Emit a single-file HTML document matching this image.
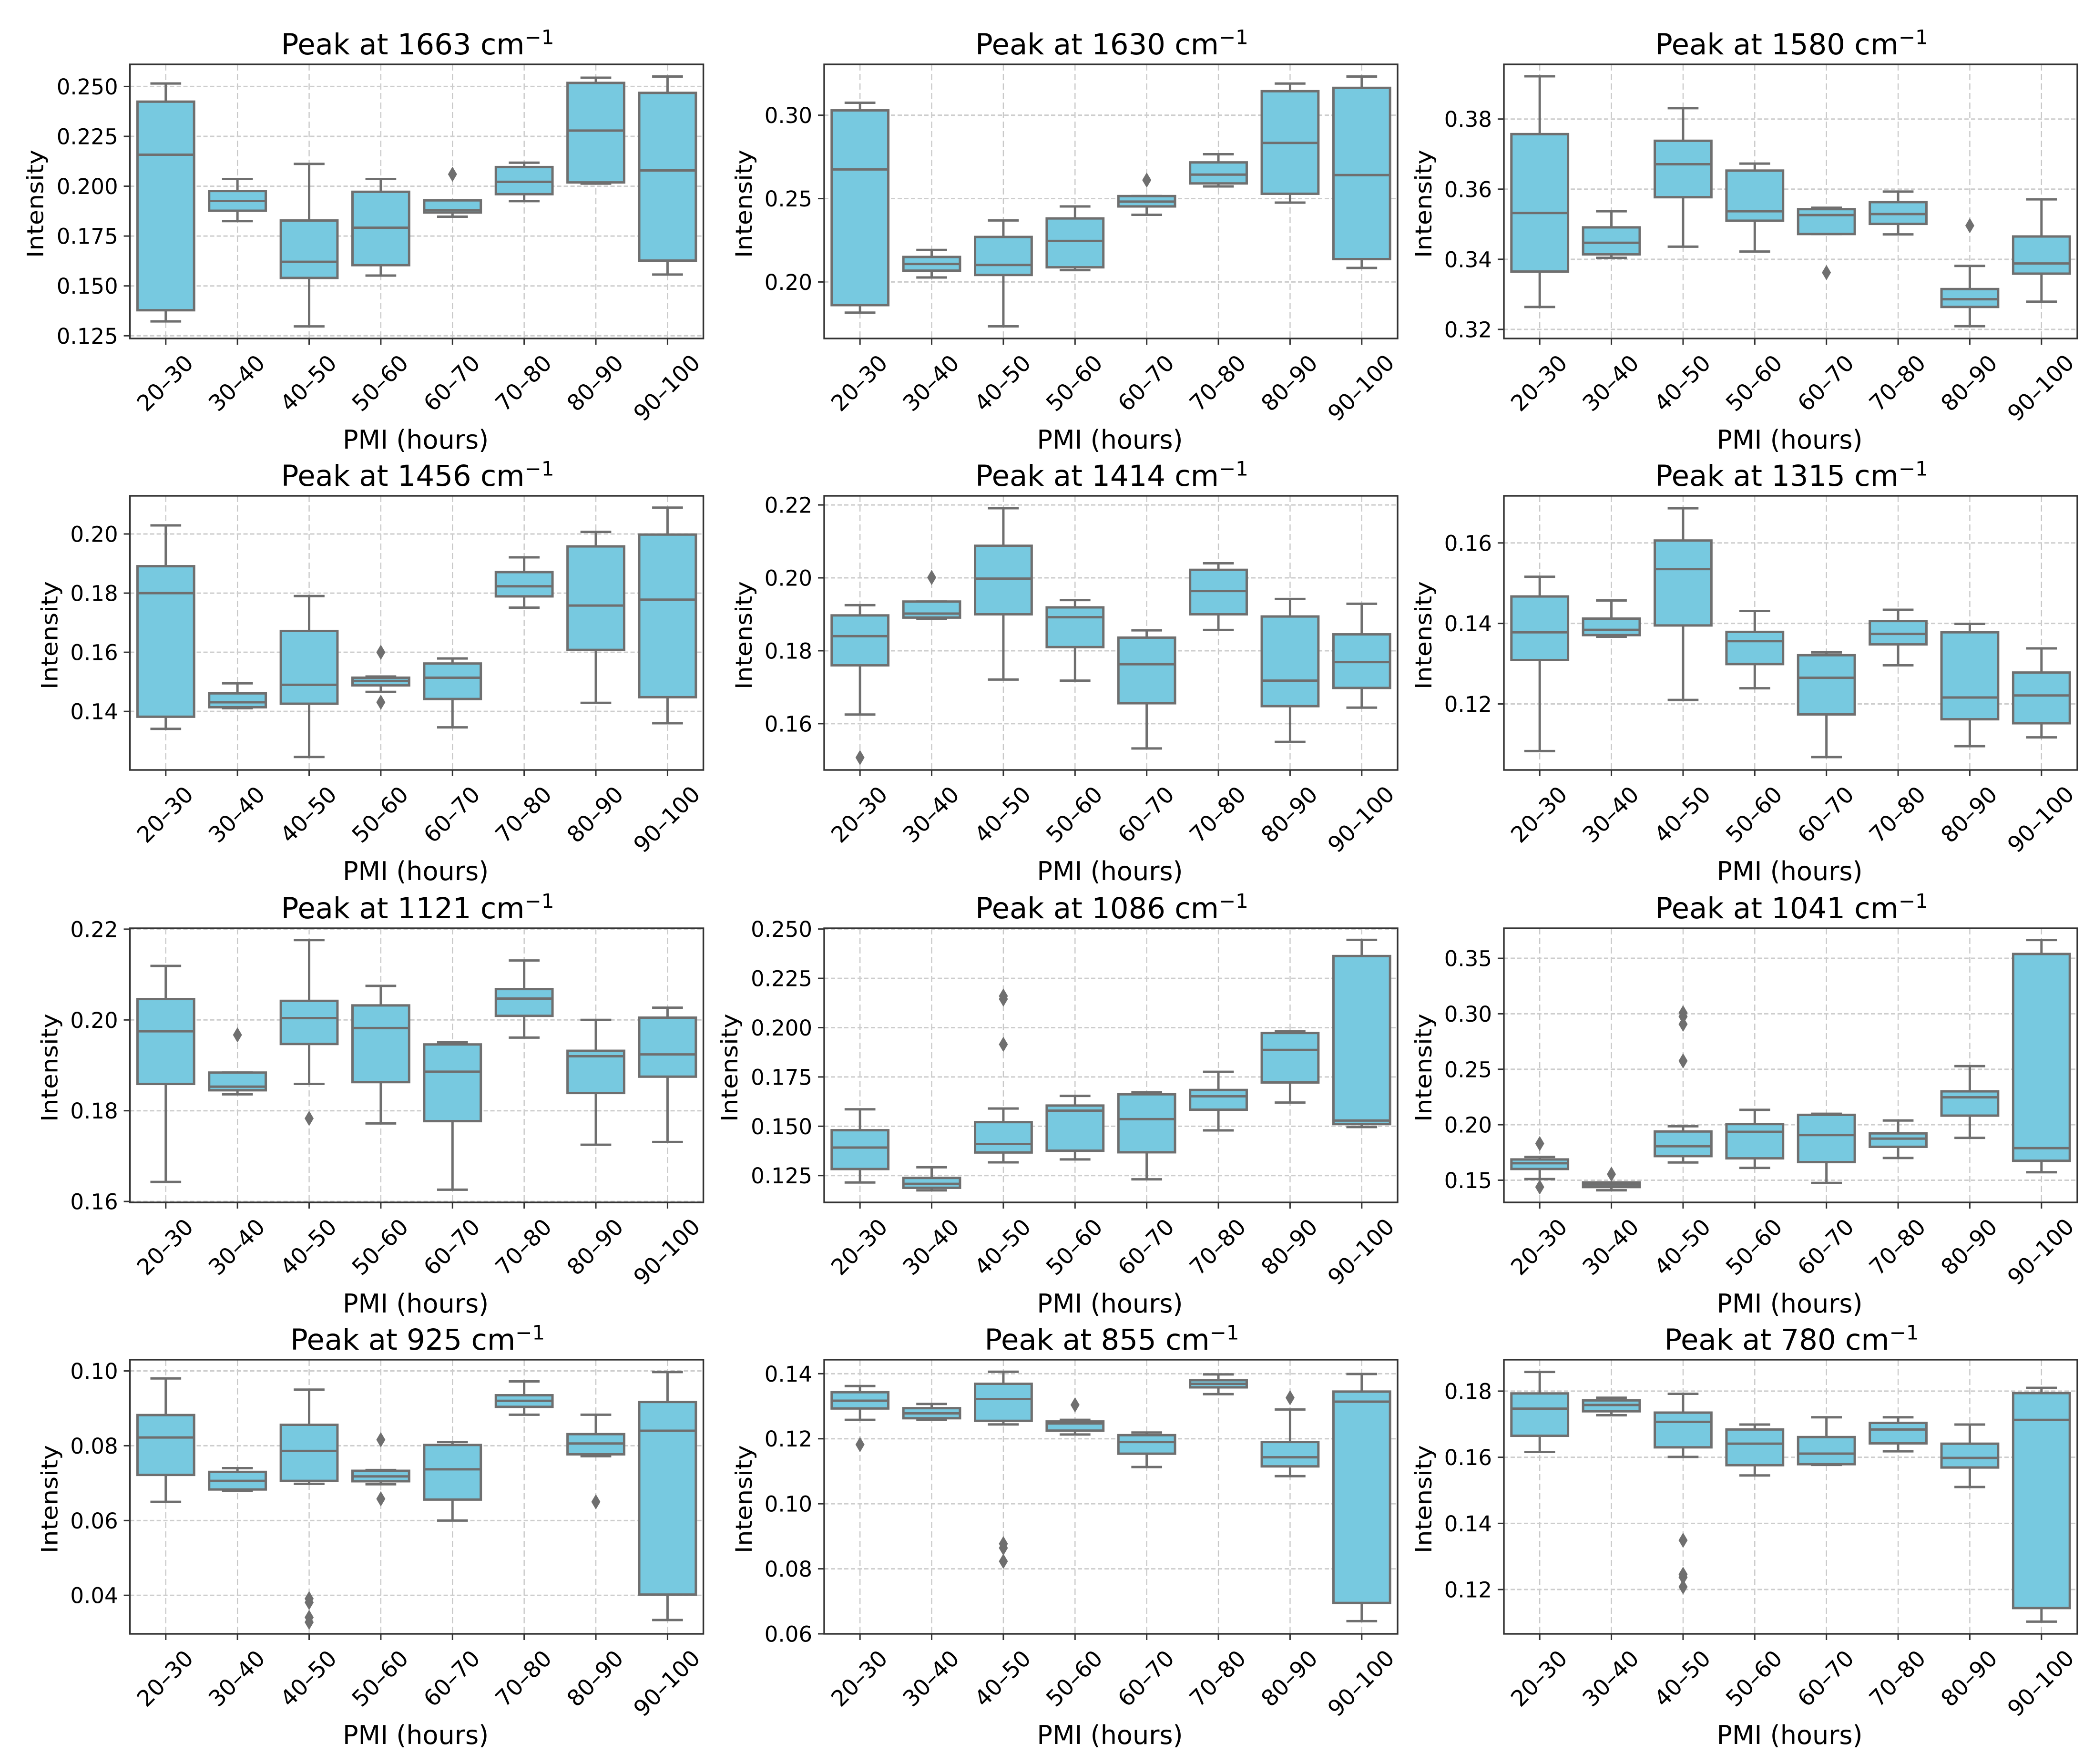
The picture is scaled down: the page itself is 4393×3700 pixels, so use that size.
<!DOCTYPE html>
<html lang="en">
<head>
<meta charset="utf-8">
<title>Raman peak intensity by PMI</title>
<style>
html,body{margin:0;padding:0;background:#fff;}
svg{display:block;}
text{font-family:"DejaVu Sans","Liberation Sans",sans-serif;fill:#000;}
</style>
</head>
<body>
<svg id="figure" xmlns="http://www.w3.org/2000/svg" width="4393" height="3700" viewBox="0 0 4393 3700"></svg>
<script>
const categories = ['20–30','30–40','40–50','50–60','60–70','70–80','80–90','90–100'];

const p1663Ticks = ['0.125','0.150','0.175','0.200','0.225','0.250'];
const p1663Ylim = [0.12363,0.2611];
const p1663Low = [.1322,.1825,.1297,.1552,.1847,.1925,.2013,.1557];
const p1663Q1 = [.1378,.1877,.1540,.1604,.1868,.1960,.2019,.1627];
const p1663Med = [.2158,.1926,.1621,.1792,.1880,.2022,.2279,.2079];
const p1663Q3 = [.2424,.1976,.1828,.1972,.1929,.2096,.2518,.2468];
const p1663High = [.2515,.2036,.2112,.2036,.1929,.2118,.2544,.2550];
const p1663Out = [[],[],[],[],[.2060],[],[],[]];

const p1630Ticks = ['0.20','0.25','0.30'];
const p1630Ylim = [0.1661,0.3305];
const p1630Low = [.1816,.2027,.1734,.2071,.2403,.2573,.2476,.2084];
const p1630Q1 = [.1861,.2068,.2042,.2088,.2453,.2591,.2529,.2137];
const p1630Med = [.2675,.2108,.2102,.2246,.2482,.2644,.2834,.2641];
const p1630Q3 = [.3029,.2150,.2270,.2381,.2515,.2717,.3144,.3164];
const p1630High = [.3075,.2192,.2369,.2453,.2515,.2766,.3190,.3232];
const p1630Out = [[],[],[],[],[.2611],[],[],[]];

const p1580Ticks = ['0.32','0.34','0.36','0.38'];
const p1580Ylim = [0.3174,0.3956];
const p1580Low = [.3264,.3404,.3436,.3422,.3472,.3471,.3209,.3279];
const p1580Q1 = [.3365,.3414,.3577,.3510,.3472,.3501,.3264,.3359];
const p1580Med = [.3532,.3447,.3671,.3537,.3526,.3529,.3286,.3388];
const p1580Q3 = [.3757,.3491,.3738,.3653,.3543,.3563,.3315,.3465];
const p1580High = [.3922,.3537,.3831,.3673,.3547,.3593,.3381,.3571];
const p1580Out = [[],[],[],[],[.3362],[],[.3496],[]];

const p1456Ticks = ['0.14','0.16','0.18','0.20'];
const p1456Ylim = [0.1202,0.2129];
const p1456Low = [.1341,.1411,.1246,.1466,.1346,.1751,.1429,.1360];
const p1456Q1 = [.1382,.1414,.1426,.1488,.1442,.1789,.1608,.1448];
const p1456Med = [.1800,.1431,.1490,.1503,.1514,.1823,.1758,.1778];
const p1456Q3 = [.1891,.1461,.1672,.1514,.1562,.1871,.1958,.1998];
const p1456High = [.2029,.1495,.1790,.1518,.1579,.1921,.2007,.2089];
const p1456Out = [[],[],[],[.1600,.1431],[],[],[],[]];

const p1414Ticks = ['0.16','0.18','0.20','0.22'];
const p1414Ylim = [0.1473,0.2225];
const p1414Low = [.1625,.1888,.1721,.1718,.1532,.1857,.1550,.1644];
const p1414Q1 = [.1760,.1891,.1900,.1810,.1656,.1900,.1648,.1698];
const p1414Med = [.1840,.1902,.1998,.1892,.1763,.1964,.1718,.1769];
const p1414Q3 = [.1897,.1935,.2088,.1919,.1836,.2022,.1894,.1845];
const p1414High = [.1925,.1935,.2191,.1939,.1856,.2040,.1942,.1929];
const p1414Out = [[.1507],[.2001],[],[],[],[],[],[]];

const p1315Ticks = ['0.12','0.14','0.16'];
const p1315Ylim = [0.1036,0.1717];
const p1315Low = [.1083,.1367,.1210,.1239,.1068,.1296,.1095,.1117];
const p1315Q1 = [.1309,.1371,.1395,.1299,.1174,.1348,.1162,.1152];
const p1315Med = [.1378,.1384,.1535,.1356,.1265,.1374,.1216,.1221];
const p1315Q3 = [.1467,.1412,.1606,.1379,.1321,.1406,.1378,.1278];
const p1315High = [.1516,.1457,.1686,.1431,.1328,.1434,.1399,.1338];
const p1315Out = [[],[],[],[],[],[],[],[]];

const p1121Ticks = ['0.16','0.18','0.20','0.22'];
const p1121Ylim = [0.1598,0.2202];
const p1121Low = [.1643,.1836,.1859,.1772,.1626,.1961,.1725,.1731];
const p1121Q1 = [.1859,.1845,.1947,.1863,.1777,.2009,.1839,.1875];
const p1121Med = [.1975,.1853,.2004,.1982,.1886,.2047,.1920,.1924];
const p1121Q3 = [.2046,.1884,.2042,.2032,.1946,.2068,.1932,.2005];
const p1121High = [.2119,.1884,.2176,.2075,.1951,.2131,.2000,.2027];
const p1121Out = [[],[.1967],[.1783],[],[],[],[],[]];

const p1086Ticks = ['0.125','0.150','0.175','0.200','0.225','0.250'];
const p1086Ylim = [0.1114,0.2504];
const p1086Low = [.1215,.1175,.1317,.1332,.1231,.1479,.1620,.1496];
const p1086Q1 = [.1283,.1188,.1367,.1376,.1368,.1584,.1722,.1511];
const p1086Med = [.1392,.1208,.1410,.1579,.1536,.1652,.1887,.1529];
const p1086Q3 = [.1480,.1238,.1521,.1605,.1662,.1684,.1973,.2363];
const p1086High = [.1586,.1292,.1590,.1654,.1672,.1776,.1981,.2445];
const p1086Out = [[],[],[.2160,.2145,.1915],[],[],[],[],[]];

const p1041Ticks = ['0.15','0.20','0.25','0.30','0.35'];
const p1041Ylim = [0.1300,0.3771];
const p1041Low = [.1510,.1409,.1660,.1611,.1475,.1700,.1882,.1572];
const p1041Q1 = [.1601,.1438,.1717,.1697,.1663,.1801,.2082,.1675];
const p1041Med = [.1653,.1461,.1806,.1936,.1907,.1875,.2247,.1789];
const p1041Q3 = [.1687,.1480,.1939,.2006,.2089,.1922,.2301,.3539];
const p1041High = [.1710,.1480,.1986,.2134,.2099,.2038,.2528,.3665];
const p1041Out = [[.1830,.1438],[.1554],[.3009,.2975,.2906,.2575],[],[],[],[],[]];

const p925Ticks = ['0.04','0.06','0.08','0.10'];
const p925Ylim = [0.0297,0.1030];
const p925Low = [.0650,.0679,.0698,.0697,.0600,.0883,.0772,.0334];
const p925Q1 = [.0722,.0683,.0706,.0705,.0656,.0904,.0777,.0402];
const p925Med = [.0822,.0706,.0786,.0718,.0737,.0920,.0806,.0840];
const p925Q3 = [.0882,.0730,.0856,.0733,.0802,.0935,.0831,.0917];
const p925High = [.0980,.0740,.0950,.0735,.0810,.0972,.0883,.0997];
const p925Out = [[],[],[.0391,.0381,.0341,.0328],[.0816,.0658],[],[],[.0650],[]];

const p855Ticks = ['0.06','0.08','0.10','0.12','0.14'];
const p855Ylim = [0.0600,0.1443];
const p855Low = [.1258,.1259,.1244,.1213,.1113,.1337,.1085,.0639];
const p855Q1 = [.1293,.1263,.1255,.1225,.1154,.1358,.1115,.0695];
const p855Med = [.1317,.1278,.1322,.1247,.1190,.1369,.1143,.1314];
const p855Q3 = [.1343,.1294,.1369,.1253,.1211,.1380,.1190,.1345];
const p855High = [.1362,.1307,.1406,.1258,.1219,.1398,.1290,.1399];
const p855Out = [[.1182],[],[.0877,.0864,.0823],[.1304],[],[],[.1326],[]];

const p780Ticks = ['0.12','0.14','0.16','0.18'];
const p780Ylim = [0.1066,0.1895];
const p780Low = [.1616,.1727,.1601,.1545,.1577,.1618,.1510,.1103];
const p780Q1 = [.1665,.1739,.1630,.1576,.1579,.1642,.1569,.1144];
const p780Med = [.1747,.1758,.1707,.1641,.1611,.1684,.1598,.1713];
const p780Q3 = [.1793,.1772,.1735,.1684,.1661,.1704,.1641,.1794];
const p780High = [.1858,.1780,.1792,.1699,.1721,.1721,.1699,.1810];
const p780Out = [[],[],[.1349,.1246,.1237,.1208],[],[],[],[],[]];

const peaks = [
  [1663,p1663Ticks,p1663Ylim,p1663Low,p1663Q1,p1663Med,p1663Q3,p1663High,p1663Out],
  [1630,p1630Ticks,p1630Ylim,p1630Low,p1630Q1,p1630Med,p1630Q3,p1630High,p1630Out],
  [1580,p1580Ticks,p1580Ylim,p1580Low,p1580Q1,p1580Med,p1580Q3,p1580High,p1580Out],
  [1456,p1456Ticks,p1456Ylim,p1456Low,p1456Q1,p1456Med,p1456Q3,p1456High,p1456Out],
  [1414,p1414Ticks,p1414Ylim,p1414Low,p1414Q1,p1414Med,p1414Q3,p1414High,p1414Out],
  [1315,p1315Ticks,p1315Ylim,p1315Low,p1315Q1,p1315Med,p1315Q3,p1315High,p1315Out],
  [1121,p1121Ticks,p1121Ylim,p1121Low,p1121Q1,p1121Med,p1121Q3,p1121High,p1121Out],
  [1086,p1086Ticks,p1086Ylim,p1086Low,p1086Q1,p1086Med,p1086Q3,p1086High,p1086Out],
  [1041,p1041Ticks,p1041Ylim,p1041Low,p1041Q1,p1041Med,p1041Q3,p1041High,p1041Out],
  [925,p925Ticks,p925Ylim,p925Low,p925Q1,p925Med,p925Q3,p925High,p925Out],
  [855,p855Ticks,p855Ylim,p855Low,p855Q1,p855Med,p855Q3,p855High,p855Out],
  [780,p780Ticks,p780Ylim,p780Low,p780Q1,p780Med,p780Q3,p780High,p780Out]
];

const NS = 'http://www.w3.org/2000/svg';
const svg = document.getElementById('figure');
const colLeft = [272.6,1729,3155];
const rowTop = [135,1040,1947,2852];
const plotW = 1203;
const plotH = 575;
const LINE = '#6f6f6f';
const FILL = '#77c9e0';

function add(parent, tag, attrs){
  const el = document.createElementNS(NS, tag);
  for (const k in attrs) el.setAttribute(k, attrs[k]);
  parent.appendChild(el);
  return el;
}

peaks.forEach(function(p, idx){
  const wn = p[0], ticks = p[1], ylim = p[2], low = p[3], q1 = p[4], med = p[5], q3 = p[6], high = p[7], out = p[8];
  const left = colLeft[idx % 3], top = rowTop[Math.floor(idx / 3)];
  const bottom = top + plotH, right = left + plotW;
  const band = plotW / categories.length;
  const xAxis = function(i){ return left + (i + 0.5) * band; };
  const yAxis = function(v){ return bottom - (v - ylim[0]) / (ylim[1] - ylim[0]) * plotH; };

  const g = add(svg, 'g', {});
  
  

  // grid lines
  categories.forEach(function(c, i){
    const gl = add(g, 'line', {x1:xAxis(i), x2:xAxis(i), y1:top, y2:bottom, stroke:'#c9c9c9', 'stroke-width':2.4, 'stroke-dasharray':'13 7'});
    
    
  });
  ticks.forEach(function(t){
    const gl = add(g, 'line', {x1:left, x2:right, y1:yAxis(+t), y2:yAxis(+t), stroke:'#cdcdcd', 'stroke-width':3, 'stroke-dasharray':'9 5'});
    
    
  });

  // boxes
  categories.forEach(function(c, i){
    const cx = xAxis(i), hw = band * 0.395, cap = band * 0.215;
    const bg = add(g, 'g', {stroke:LINE, 'stroke-width':5});
    
    

    const wu = add(bg, 'line', {x1:cx, x2:cx, y1:yAxis(q3[i]), y2:yAxis(high[i])});
    
    
    const wl = add(bg, 'line', {x1:cx, x2:cx, y1:yAxis(q1[i]), y2:yAxis(low[i])});
    
    
    const cu = add(bg, 'line', {x1:cx - cap, x2:cx + cap, y1:yAxis(high[i]), y2:yAxis(high[i])});
    
    
    const cl = add(bg, 'line', {x1:cx - cap, x2:cx + cap, y1:yAxis(low[i]), y2:yAxis(low[i])});
    
    

    const box = add(bg, 'rect', {x:cx - hw, width:hw * 2, y:yAxis(q3[i]), height:yAxis(q1[i]) - yAxis(q3[i]), fill:FILL});
    
    
    const ml = add(bg, 'line', {x1:cx - hw, x2:cx + hw, y1:yAxis(med[i]), y2:yAxis(med[i])});
    
    

    out[i].forEach(function(v){
      const oy = yAxis(v);
      const d = add(bg, 'path', {d:'M' + cx + ' ' + (oy - 16) + 'L' + (cx + 9.5) + ' ' + oy + 'L' + cx + ' ' + (oy + 16) + 'L' + (cx - 9.5) + ' ' + oy + 'Z', fill:LINE, stroke:'none'});
      
      
    });
  });

  // frame
  const frame = add(g, 'rect', {x:left, y:top, width:plotW, height:plotH, fill:'none', stroke:'#333', 'stroke-width':3.4});
  
  

  // y ticks
  ticks.forEach(function(t){
    const ty = yAxis(+t);
    const tk = add(g, 'line', {x1:left - 13, x2:left, y1:ty, y2:ty, stroke:'#333', 'stroke-width':3});
    
    
    const lb = add(g, 'text', {x:left - 25, y:ty + 16.5, 'text-anchor':'end', 'font-size':45});
    lb.textContent = t;
    
    
  });

  // x ticks
  categories.forEach(function(c, i){
    const tx = xAxis(i);
    const tk = add(g, 'line', {x1:tx, x2:tx, y1:bottom, y2:bottom + 13, stroke:'#333', 'stroke-width':3});
    
    
    const cy = bottom + (c.length > 5 ? 103 : 93);
    const cxl = tx - 2;
    const lb = add(g, 'text', {x:cxl, y:cy + 17, 'text-anchor':'middle', 'font-size':47, transform:'rotate(-45 ' + cxl + ' ' + cy + ')'});
    lb.textContent = c;
    
    
  });

  // titles
  const title = add(g, 'text', {x:left + plotW / 2 + 2, y:top - 21, 'text-anchor':'middle', 'font-size':60.8});
  
  
  title.appendChild(document.createTextNode('Peak at ' + wn + ' cm'));
  const sup = add(title, 'tspan', {dy:-21.5, 'font-size':42});
  sup.textContent = '−1';

  const xt = add(g, 'text', {x:left + plotW / 2 - 2, y:bottom + 231, 'text-anchor':'middle', 'font-size':54});
  xt.textContent = 'PMI (hours)';
  
  

  const yx = left - (ticks[0].length > 4 ? 216 : 186) + 34;
  const yy = top + plotH / 2 + 5;
  const yt = add(g, 'text', {x:yx, y:yy, 'text-anchor':'middle', 'font-size':47, textLength:227, lengthAdjust:'spacingAndGlyphs', transform:'rotate(-90 ' + yx + ' ' + yy + ')'});
  yt.textContent = 'Intensity';
  
  
});
</script>
</body>
</html>
